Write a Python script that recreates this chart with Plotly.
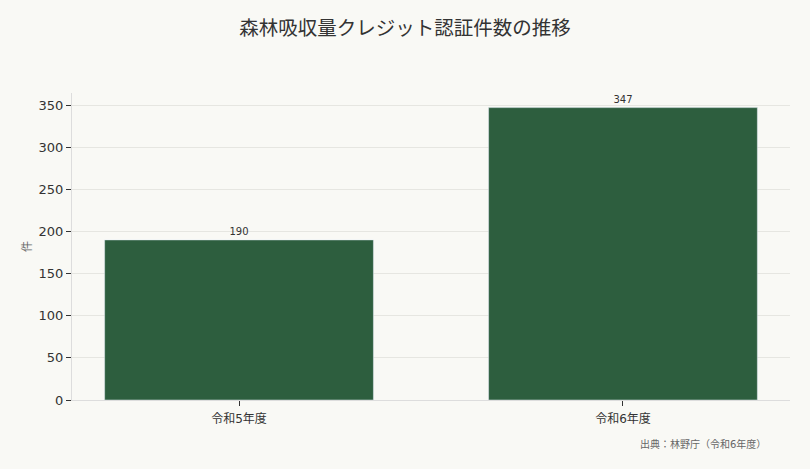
import plotly.graph_objects as go

# data
categories = ["令和5年度", "令和6年度"]
counts = [190, 347]

title = "森林吸収量クレジット認証件数の推移"
source = "出典：林野庁（令和6年度）"

fig = go.Figure()
fig.add_trace(go.Bar(
    x=categories,
    y=counts,
    marker_color="#2d5e3e",
    text=[str(v) for v in counts],
    textposition="outside",
    textfont=dict(size=10, color="#333333"),
    cliponaxis=False,
))

fig.update_layout(
    width=810,
    height=469,
    paper_bgcolor="#f9f9f5",
    plot_bgcolor="#f9f9f5",
    font=dict(family="DejaVu Sans, Noto Sans CJK JP, sans-serif", color="#333333"),
    title=dict(text=title, x=0.5, xanchor="center", y=0.94, yanchor="middle",
               font=dict(size=19.5, color="#333333")),
    margin=dict(l=72, r=20, t=93, b=69),
    bargap=0.3,
    showlegend=False,
    xaxis=dict(
        range=[-0.435, 1.435],
        showline=True, linecolor="#dddddd", linewidth=1,
        ticks="outside", ticklen=5, tickcolor="#333333",
        tickfont=dict(size=12, color="#333333"),
        ticklabelstandoff=3,
        showgrid=False,
    ),
    yaxis=dict(
        range=[0, 364.35],
        dtick=50,
        showline=True, linecolor="#dddddd", linewidth=1,
        ticks="outside", ticklen=5, tickcolor="#333333",
        tickfont=dict(size=13, color="#333333"),
        gridcolor="#e6e6e1",
        zeroline=False,
        title=dict(text="件", font=dict(size=11, color="#666666"), standoff=4),
    ),
)

fig.add_annotation(
    text=source, xref="paper", yref="paper", x=0.969, y=-0.143,
    xanchor="right", yanchor="middle", showarrow=False,
    font=dict(size=10, color="#666666"),
)

# page margin off so the figure fills the window
fig.write_html(
    "out.html",
    config={"displayModeBar": False},
    post_script="document.body.style.margin='0';document.body.style.background='#f9f9f5';",
)
